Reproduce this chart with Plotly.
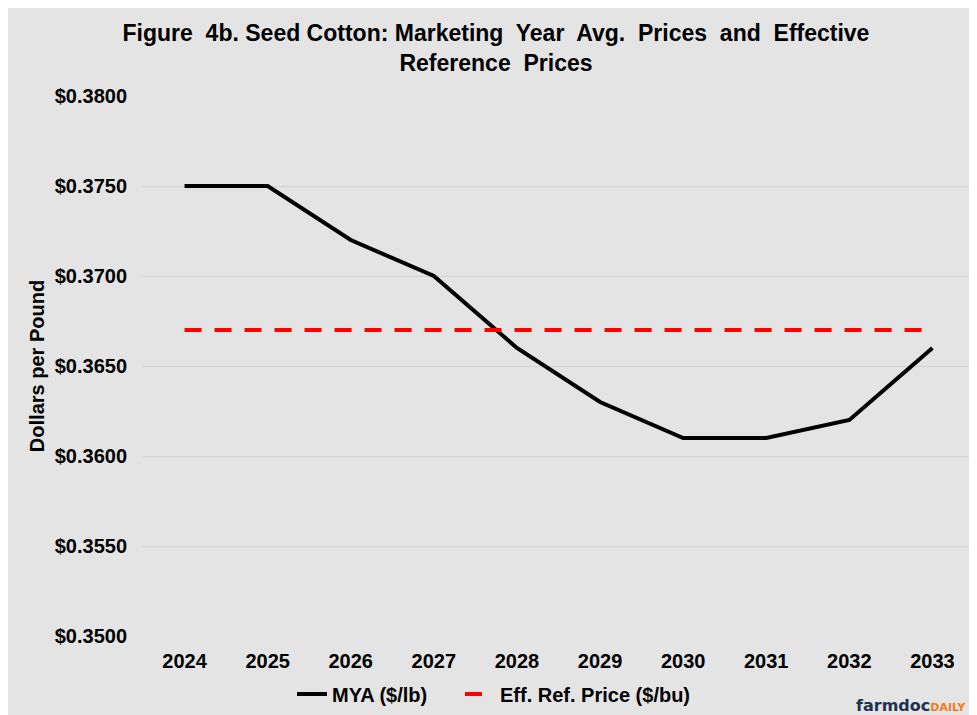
import plotly.graph_objects as go

years = ["2024", "2025", "2026", "2027", "2028", "2029", "2030", "2031", "2032", "2033"]
mya = [0.375, 0.375, 0.372, 0.370, 0.366, 0.363, 0.361, 0.361, 0.362, 0.366]
eff_ref = [0.367] * 10
y_ticks = [0.350, 0.355, 0.360, 0.365, 0.370, 0.375, 0.380]
y_tick_labels = ["$0.3500", "$0.3550", "$0.3600", "$0.3650", "$0.3700", "$0.3750", "$0.3800"]

W, H = 977, 715
L, R, T, B = 135, 11, 88, 87
pw, ph = W - L - R, H - T - B

FONT = "Liberation Sans, Arial, sans-serif"
BG = "#e4e4e4"

fig = go.Figure()
fig.add_trace(go.Scatter(x=years, y=mya, mode="lines",
                         name="<b>MYA ($/lb)</b>&nbsp;&nbsp;&nbsp;&nbsp;&nbsp;",
                         line=dict(color="black", width=4)))
fig.add_trace(go.Scatter(x=years, y=eff_ref, mode="lines", name="<b>Eff. Ref. Price ($/bu)</b>",
                         line=dict(color="#ff0000", width=4, dash="17px,13px")))

fig.update_layout(
    width=W, height=H,
    margin=dict(l=L, r=R, t=T, b=B, autoexpand=False),
    paper_bgcolor=BG,
    plot_bgcolor=BG,
    font=dict(family=FONT, color="black"),
    title=dict(text="<b>Figure  4b. Seed Cotton: Marketing  Year  Avg.  Prices  and  Effective<br>Reference  Prices</b>",
               x=488 / W, xref="container", xanchor="center", y=1 - 33 / H, yref="container",
               yanchor="middle", font=dict(size=23, family=FONT)),
    showlegend=True,
    legend=dict(orientation="h", x=(284 - L) / pw, xanchor="left", y=-(686 - (H - B)) / ph,
                yanchor="middle", font=dict(size=20, family=FONT), bgcolor="rgba(0,0,0,0)"),
)
fig.update_xaxes(type="category", range=[-0.5, 9.5], showgrid=False, zeroline=False, showline=False,
                 ticks="", tickfont=dict(size=20, family=FONT), ticklabelstandoff=11,
                 tickprefix="<b>", ticksuffix="</b>")
fig.update_yaxes(range=[0.350, 0.380], tickvals=y_ticks,
                 ticktext=["<b>" + t + "</b>" for t in y_tick_labels],
                 showgrid=True, gridcolor="#d2d2d2", gridwidth=1, zeroline=False, showline=False,
                 tickfont=dict(size=20, family=FONT), ticks="", ticklabelstandoff=15,
                 title=dict(text="<b>Dollars per Pound</b>", font=dict(size=20, family=FONT), standoff=4))

fig.add_annotation(xref="paper", yref="paper", x=(846 - L) / pw, y=-(697 - (H - B)) / ph,
                   xanchor="left", yanchor="middle", showarrow=False,
                   text="<b><span style='color:#22304f'>farmdoc</span><span style='color:#f47a20;font-size:11px'>DAILY</span></b>",
                   font=dict(size=16, family="DejaVu Sans, sans-serif"))

fig.write_html("out.html")
